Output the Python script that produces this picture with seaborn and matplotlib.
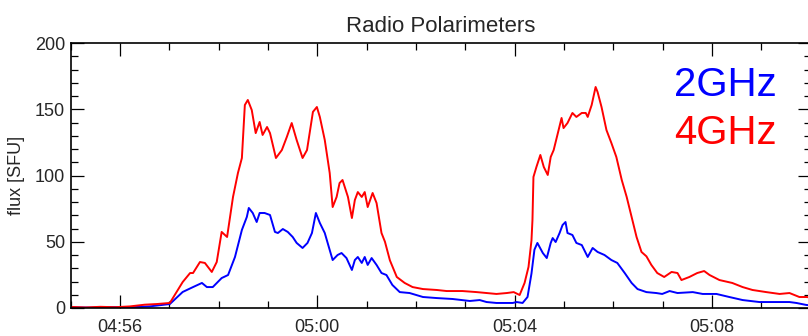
import numpy as np
import pandas as pd
import matplotlib
matplotlib.use("Agg")
import matplotlib.pyplot as plt
import seaborn as sns
from matplotlib.ticker import MultipleLocator, FixedLocator, FuncFormatter

# ---- data: minutes after 04:55 UT, flux in SFU ----
START_H, START_M = 4, 55

t_2ghz = [0.00, 0.40, 0.80, 1.20, 1.60, 2.01, 2.27, 2.48, 2.66, 2.76, 2.88, 3.06, 3.19, 3.33,
          3.47, 3.57, 3.61, 3.69, 3.77, 3.83, 3.93, 4.04, 4.14, 4.20, 4.30, 4.40, 4.50, 4.58,
          4.70, 4.80, 4.89, 4.97, 5.05, 5.15, 5.25, 5.31, 5.41, 5.49, 5.59, 5.70, 5.76, 5.82,
          5.90, 5.96, 6.02, 6.10, 6.20, 6.30, 6.40, 6.52, 6.67, 6.87, 7.14, 7.42, 7.74, 8.09,
          8.29, 8.43, 8.63, 8.76, 8.96, 9.04, 9.16, 9.26, 9.34, 9.40, 9.46, 9.57, 9.65, 9.73,
          9.77, 9.83, 9.91, 9.97, 10.03, 10.07, 10.17, 10.25, 10.36, 10.48, 10.58, 10.68,
          10.82, 10.96, 11.08, 11.23, 11.37, 11.49, 11.67, 11.87, 11.99, 12.14, 12.30, 12.61,
          12.81, 13.09, 13.35, 13.62, 13.96, 14.31, 14.57, 14.71, 14.91, 15.00]
flux_2ghz = [0.5, 0.3, 0.7, 0.5, 1.2, 3.0, 12.1, 15.8, 18.9, 15.8, 15.8, 22.6, 24.9, 38.5,
             58.9, 68.7, 75.5, 71.7, 64.9, 71.7, 71.7, 70.2, 57.4, 56.6, 59.6, 57.4, 53.6, 49.1,
             45.3, 49.1, 56.6, 71.7, 64.2, 56.6, 43.8, 36.2, 40.0, 41.5, 37.7, 28.7, 36.2, 38.5,
             34.0, 38.5, 32.5, 37.7, 32.5, 26.4, 24.9, 17.4, 12.0, 11.3, 8.3, 7.5, 6.8, 5.3,
             6.0, 4.5, 3.8, 3.8, 3.8, 4.5, 3.8, 8.3, 26.0, 44.0, 49.1, 41.5, 37.7, 49.1,
             52.8, 49.8, 56.6, 62.6, 64.9, 56.6, 55.1, 49.1, 47.5, 38.5, 45.3, 42.3,
             40.0, 36.2, 34.0, 26.4, 18.9, 14.3, 12.0, 11.3, 10.6, 12.8, 11.3, 12.0,
             10.6, 10.6, 8.3, 6.0, 4.5, 4.5, 4.5, 3.8, 2.3, 2.0]

t_4ghz = [0.00, 0.30, 0.60, 0.90, 1.20, 1.50, 1.75, 2.01, 2.27, 2.42, 2.48, 2.62, 2.72, 2.86,
          2.96, 3.06, 3.17, 3.29, 3.39, 3.47, 3.53, 3.59, 3.67, 3.75, 3.83, 3.89, 3.98, 4.04,
          4.16, 4.28, 4.38, 4.48, 4.58, 4.70, 4.79, 4.91, 4.99, 5.05, 5.15, 5.25, 5.31, 5.39,
          5.45, 5.51, 5.62, 5.70, 5.76, 5.82, 5.90, 5.96, 6.02, 6.12, 6.20, 6.30, 6.37, 6.47,
          6.61, 6.77, 6.93, 7.14, 7.42, 7.62, 7.94, 8.23, 8.43, 8.63, 8.84, 8.98, 9.10, 9.20,
          9.28, 9.34, 9.36, 9.38, 9.44, 9.52, 9.59, 9.67, 9.73, 9.79, 9.89, 9.95, 9.99, 10.07,
          10.17, 10.25, 10.36, 10.44, 10.48, 10.56, 10.64, 10.68, 10.76, 10.86, 10.96, 11.06,
          11.17, 11.27, 11.37, 11.47, 11.57, 11.67, 11.77, 11.89, 12.03, 12.18, 12.30, 12.38,
          12.54, 12.70, 12.84, 12.95, 13.15, 13.41, 13.62, 13.82, 14.10, 14.37, 14.57, 14.77,
          14.91, 15.00]
flux_4ghz = [0.8, 0.4, 0.9, 0.6, 1.2, 2.5, 3.0, 3.8, 19.6, 26.4, 26.4, 34.7, 34.0, 27.2,
             34.7, 57.4, 53.6, 83.8, 101.9, 113.2, 153.2, 157.0, 149.4, 132.0, 140.4, 130.6, 136.6, 132.0,
             113.2, 119.2, 129.0, 139.6, 126.8, 113.2, 119.2, 148.0, 151.7, 144.2, 126.8, 101.9, 76.2, 83.8,
             94.3, 96.6, 83.8, 67.9, 81.5, 87.5, 83.8, 87.5, 76.2, 86.8, 79.2, 56.6, 50.0, 36.0,
             23.4, 18.9, 15.8, 14.3, 13.6, 12.8, 12.8, 12.0, 11.3, 10.6, 11.3, 12.0, 9.8, 18.9,
             31.0, 51.0, 66.4, 98.9, 106.4, 115.5, 106.4, 100.4, 114.0, 119.2, 134.3, 143.4, 135.8, 139.6,
             147.2, 144.2, 147.2, 147.2, 144.2, 153.2, 166.8, 163.0, 151.7, 134.3, 124.5, 114.0,
             96.6, 83.8, 68.7, 53.6, 42.3, 39.0, 32.5, 26.4, 23.4, 27.2, 26.4, 21.1,
             23.4, 26.4, 27.9, 24.9, 21.1, 18.9, 15.8, 13.6, 12.0, 10.6, 11.3, 8.3,
             8.3, 8.0]

bands = ["2GHz", "4GHz"]
colors = {"2GHz": "#0000ff", "4GHz": "#ff0000"}
major_ticks = [1, 5, 9, 13]

df = pd.concat([
    pd.DataFrame({"t": t_2ghz, "flux": flux_2ghz, "band": "2GHz"}),
    pd.DataFrame({"t": t_4ghz, "flux": flux_4ghz, "band": "4GHz"}),
], ignore_index=True)

sns.set_style("ticks")
plt.rcParams['font.family'] = ['Liberation Sans', 'DejaVu Sans']

W, H = 808, 336
fig = plt.figure(figsize=(W / 100, H / 100), dpi=100)
ax = fig.add_axes([70.7 / W, 28 / H, 740 / W, 265 / H])

sns.lineplot(data=df, x="t", y="flux", hue="band", hue_order=bands, palette=colors,
             estimator=None, sort=False, lw=1.4, legend=False, ax=ax)

ax.set_xlim(0, 15)
ax.set_ylim(0, 200)
ax.xaxis.set_major_locator(FixedLocator(major_ticks))
ax.xaxis.set_minor_locator(MultipleLocator(1))
ax.yaxis.set_major_locator(MultipleLocator(50))
ax.yaxis.set_minor_locator(MultipleLocator(10))

def fmt(v, pos):
    tot = START_H * 60 + START_M + int(round(v))
    return f"{tot // 60:02d}:{tot % 60:02d}"
ax.xaxis.set_major_formatter(FuncFormatter(fmt))

ax.tick_params(which="both", direction="in", top=True, right=True, color="black", width=0.9)
ax.tick_params(which="major", length=9.5)
ax.tick_params(which="minor", length=5)
ax.tick_params(axis="x", which="major", labelsize=13, pad=8)
ax.tick_params(axis="y", which="major", labelsize=13, pad=4)
for s in ax.spines.values():
    s.set_linewidth(1.2)
    s.set_color("black")

ax.set_xlabel("")
ax.set_ylabel("flux [SFU]", fontsize=13, labelpad=7)
ax.set_title("Radio Polarimeters", fontsize=16, pad=8)

ax.text(0.954, 0.842, "2GHz", color=colors["2GHz"], fontsize=29, ha="right", va="center",
        transform=ax.transAxes)
ax.text(0.954, 0.66, "4GHz", color=colors["4GHz"], fontsize=29, ha="right", va="center",
        transform=ax.transAxes)

fig.savefig("out.png", dpi=100)
